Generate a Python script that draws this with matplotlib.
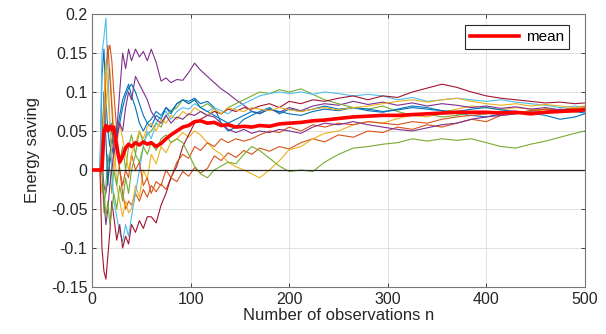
import matplotlib
matplotlib.use("Agg")
import matplotlib.pyplot as plt
from matplotlib.ticker import FormatStrFormatter

plt.rcParams["font.family"] = ["Liberation Sans", "DejaVu Sans"]
plt.rcParams["axes.unicode_minus"] = False

# observation counts shared by all runs
n_obs = [0, 8, 10, 12, 14, 16, 18, 20, 22, 25, 28, 31, 34, 37, 40, 44, 48, 52, 56, 60,
         65, 70, 75, 80, 86, 92, 98, 104, 110, 117, 124, 131, 138, 146, 154, 162, 170, 180, 190, 200,
         212, 224, 236, 250, 265, 280, 295, 310, 325, 340, 355, 370, 385, 400, 415, 430, 445, 460, 475, 490, 500]

blue1 = [0, 0.0, 0.12, 0.155, 0.09, 0.05, 0.03, 0.06, 0.02, 0.04, 0.06, 0.08, 0.095, 0.105, 0.11, 0.10, 0.085, 0.07, 0.06, 0.065,
         0.075, 0.07, 0.08, 0.072, 0.085, 0.09, 0.088, 0.092, 0.085, 0.088, 0.08, 0.06, 0.05, 0.055, 0.065, 0.07, 0.075, 0.08, 0.072, 0.078,
         0.075, 0.078, 0.082, 0.078, 0.08, 0.076, 0.074, 0.078, 0.082, 0.08, 0.076, 0.072, 0.07, 0.068, 0.072, 0.075, 0.073, 0.07, 0.065, 0.068, 0.072]
orange1 = [0, 0.0, 0.04, 0.09, 0.13, 0.15, 0.16, 0.14, 0.1, 0.05, 0.0, -0.03, -0.05, -0.04, -0.045, -0.03, -0.04, -0.025, -0.035, -0.02,
           -0.028, -0.018, -0.025, -0.01, -0.015, -0.002, -0.008, 0.003, -0.004, 0.002, 0.018, 0.012, 0.022, 0.016, 0.025, 0.02, 0.028, 0.024, 0.03, 0.027,
           0.035, 0.04, 0.036, 0.045, 0.042, 0.05, 0.048, 0.055, 0.052, 0.058, 0.055, 0.06, 0.065, 0.062, 0.07, 0.072, 0.075, 0.078, 0.076, 0.08, 0.082]
yellow1 = [0, 0.0, -0.03, 0.03, 0.08, 0.11, 0.13, 0.09, 0.05, -0.02, -0.04, -0.06, -0.04, -0.055, -0.05, -0.02, -0.035, 0.0, -0.012, 0.02,
           0.008, 0.03, 0.022, 0.035, 0.04, 0.048, 0.042, 0.05, 0.045, 0.035, 0.026, 0.02, 0.01, 0.004, 0.0, -0.005, -0.01, 0.0, 0.012, 0.026,
           0.03, 0.04, 0.047, 0.05, 0.058, 0.062, 0.06, 0.066, 0.07, 0.068, 0.074, 0.078, 0.082, 0.08, 0.077, 0.08, 0.078, 0.075, 0.077, 0.074, 0.076]
purple1 = [0, 0.0, 0.01, -0.02, -0.03, -0.01, 0.01, 0.02, 0.035, 0.05, 0.1, 0.15, 0.13, 0.155, 0.14, 0.155, 0.145, 0.152, 0.14, 0.155,
           0.138, 0.114, 0.118, 0.112, 0.116, 0.115, 0.125, 0.137, 0.128, 0.12, 0.112, 0.104, 0.098, 0.09, 0.083, 0.075, 0.073, 0.078, 0.074, 0.08,
           0.076, 0.082, 0.085, 0.083, 0.088, 0.084, 0.087, 0.083, 0.086, 0.082, 0.085, 0.083, 0.08, 0.082, 0.079, 0.081, 0.078, 0.08, 0.077, 0.079, 0.078]
green1 = [0, 0.0, 0.0, -0.055, -0.02, 0.02, 0.0, -0.03, 0.0, -0.02, 0.01, 0.03, 0.0, 0.03, 0.045, 0.02, 0.05, 0.035, 0.045, 0.05,
          0.06, 0.055, 0.07, 0.075, 0.08, 0.09, 0.085, 0.09, 0.08, 0.085, 0.078, 0.072, 0.08, 0.085, 0.09, 0.095, 0.1, 0.098, 0.103, 0.1,
          0.104, 0.097, 0.09, 0.085, 0.08, 0.078, 0.082, 0.075, 0.07, 0.072, 0.068, 0.07, 0.073, 0.072, 0.075, 0.073, 0.076, 0.078, 0.077, 0.079, 0.078]
cyan1 = [0, 0.0, 0.15, 0.17, 0.195, 0.13, 0.06, 0.0, -0.04, -0.06, -0.08, -0.092, -0.07, -0.085, -0.06, -0.03, 0.0, 0.03, 0.05, 0.04,
         0.06, 0.07, 0.075, 0.065, 0.075, 0.08, 0.078, 0.085, 0.08, 0.075, 0.08, 0.076, 0.072, 0.08, 0.085, 0.09, 0.095, 0.098, 0.1, 0.098,
         0.1, 0.097, 0.1, 0.098, 0.095, 0.097, 0.095, 0.09, 0.093, 0.088, 0.09, 0.092, 0.09, 0.088, 0.09, 0.087, 0.085, 0.083, 0.08, 0.082, 0.08]
darkred1 = [0, 0.0, -0.1, -0.13, -0.14, -0.11, -0.08, -0.04, -0.06, -0.09, -0.07, -0.1, -0.085, -0.095, -0.07, -0.08, -0.065, -0.075, -0.06, -0.06,
            -0.068, -0.045, -0.03, -0.01, 0.005, 0.03, 0.045, 0.06, 0.065, 0.07, 0.075, 0.072, 0.078, 0.075, 0.08, 0.078, 0.082, 0.085, 0.08, 0.088,
            0.085, 0.09, 0.088, 0.092, 0.095, 0.09, 0.095, 0.093, 0.1, 0.105, 0.11, 0.106, 0.1, 0.095, 0.092, 0.09, 0.088, 0.086, 0.087, 0.085, 0.086]
blue2 = [0, 0.0, 0.0, 0.1, 0.04, -0.02, 0.02, 0.04, 0.03, 0.045, 0.07, 0.09, 0.1, 0.11, 0.095, 0.08, 0.06, 0.05, 0.06, 0.055,
         0.07, 0.065, 0.08, 0.075, 0.085, 0.09, 0.085, 0.09, 0.08, 0.075, 0.07, 0.065, 0.06, 0.065, 0.07, 0.075, 0.072, 0.078, 0.075, 0.072,
         0.07, 0.075, 0.078, 0.076, 0.08, 0.078, 0.075, 0.077, 0.08, 0.078, 0.076, 0.075, 0.078, 0.08, 0.077, 0.075, 0.072, 0.074, 0.076, 0.075, 0.073]
orange2 = [0, 0.0, 0.0, 0.05, 0.12, 0.16, 0.12, 0.08, 0.03, 0.04, 0.0, -0.02, 0.0, -0.01, 0.02, 0.0, 0.01, -0.02, -0.01, -0.03,
           -0.015, -0.02, 0.0, -0.01, 0.01, 0.02, 0.015, 0.03, 0.025, 0.035, 0.03, 0.04, 0.035, 0.04, 0.037, 0.04, 0.045, 0.05, 0.048, 0.055,
           0.05, 0.058, 0.055, 0.06, 0.058, 0.062, 0.06, 0.058, 0.062, 0.06, 0.065, 0.068, 0.07, 0.072, 0.075, 0.073, 0.076, 0.078, 0.077, 0.079, 0.08]
yellow2 = [0, 0.0, 0.0, 0.08, 0.14, 0.1, 0.06, 0.02, 0.0, 0.03, 0.06, 0.04, 0.02, 0.0, 0.02, 0.035, 0.05, 0.04, 0.055, 0.06,
           0.05, 0.065, 0.06, 0.07, 0.065, 0.075, 0.07, 0.08, 0.075, 0.07, 0.078, 0.072, 0.08, 0.077, 0.075, 0.08, 0.078, 0.076, 0.08, 0.077,
           0.075, 0.078, 0.08, 0.077, 0.08, 0.082, 0.085, 0.088, 0.09, 0.087, 0.09, 0.092, 0.088, 0.085, 0.083, 0.085, 0.082, 0.084, 0.082, 0.08, 0.081]
purple2 = [0, 0.0, 0.0, -0.04, -0.07, -0.05, -0.02, 0.0, 0.02, 0.04, 0.06, 0.05, 0.08, 0.1, 0.09, 0.12, 0.11, 0.1, 0.09, 0.075,
           0.065, 0.06, 0.07, 0.06, 0.068, 0.065, 0.072, 0.07, 0.075, 0.07, 0.068, 0.06, 0.052, 0.048, 0.052, 0.047, 0.05, 0.048, 0.052, 0.05,
           0.047, 0.055, 0.06, 0.058, 0.062, 0.058, 0.055, 0.052, 0.05, 0.054, 0.058, 0.06, 0.065, 0.068, 0.07, 0.072, 0.074, 0.075, 0.078, 0.077, 0.078]
green2 = [0, 0.0, 0.0, -0.03, -0.06, -0.04, -0.07, -0.05, -0.03, -0.05, -0.02, -0.04, -0.01, -0.03, 0.0, 0.02, 0.01, 0.03, 0.02, 0.035,
          0.025, 0.04, 0.045, 0.035, 0.04, 0.035, 0.02, 0.005, -0.005, -0.01, 0.0, 0.005, 0.01, 0.008, 0.02, 0.03, 0.025, 0.015, 0.005, -0.002,
          0.0, -0.002, 0.01, 0.02, 0.028, 0.03, 0.033, 0.035, 0.04, 0.037, 0.04, 0.038, 0.04, 0.035, 0.03, 0.028, 0.033, 0.037, 0.042, 0.047, 0.05]

mean_saving = [0, 0.0, 0.0, 0.05, 0.057, 0.05, 0.056, 0.052, 0.055, 0.03, 0.01, 0.018, 0.028, 0.033, 0.03, 0.035, 0.032, 0.036, 0.033, 0.035,
               0.03, 0.034, 0.04, 0.045, 0.05, 0.055, 0.057, 0.062, 0.063, 0.06, 0.061, 0.057, 0.058, 0.055, 0.056, 0.055, 0.057, 0.056, 0.059, 0.06,
               0.061, 0.063, 0.064, 0.066, 0.068, 0.069, 0.07, 0.07, 0.071, 0.072, 0.073, 0.074, 0.074, 0.074, 0.073, 0.074, 0.072, 0.074, 0.075, 0.076, 0.077]

runs = [blue1, orange1, yellow1, purple1, green1, cyan1, darkred1,
        blue2, orange2, yellow2, purple2, green2]
colors = ["#0072BD", "#D95319", "#EDB120", "#7E2F8E", "#77AC30", "#4DBEEE", "#A2142F"]

fig = plt.figure(figsize=(6.06, 3.34), dpi=100)
ax = fig.add_axes([0.152, 0.141, 0.813, 0.817])

for i, run in enumerate(runs):
    ax.plot(n_obs, run, color=colors[i % len(colors)], lw=0.8)

ax.axhline(0, color="#262626", lw=0.9, zorder=3)
ax.plot(n_obs, mean_saving, color="#FF0000", lw=2.6, label="mean", zorder=4)

ax.set_xlim(0, 500)
ax.set_ylim(-0.15, 0.2)
ax.set_xticks([0, 100, 200, 300, 400, 500])
ax.set_yticks([-0.15, -0.1, -0.05, 0, 0.05, 0.1, 0.15, 0.2])
ax.yaxis.set_major_formatter(FormatStrFormatter("%g"))
ax.tick_params(direction="in", top=True, right=True, labelsize=11.5,
               colors="#262626", length=3, width=0.6)
ax.grid(True, color="#DCDCDC", lw=0.6)
ax.set_axisbelow(True)
for s in ax.spines.values():
    s.set_color("#777777")
    s.set_linewidth(0.8)

ax.set_xlabel("Number of observations n", fontsize=12, color="#262626", labelpad=1)
ax.set_ylabel("Energy saving", fontsize=12, color="#262626", labelpad=8)

leg = ax.legend(loc="upper right", bbox_to_anchor=(0.968, 0.958), borderaxespad=0,
                fontsize=11, fancybox=False, framealpha=1, edgecolor="#262626",
                handlelength=3.2, borderpad=0.3, handletextpad=0.5)
leg.get_frame().set_linewidth(0.8)

fig.savefig("out.png", dpi=100)
